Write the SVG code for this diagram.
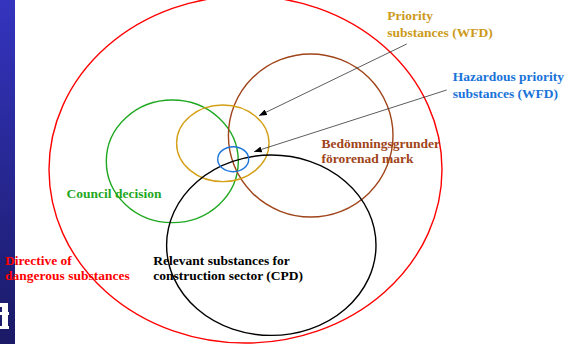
<svg xmlns="http://www.w3.org/2000/svg" width="567" height="344" viewBox="0 0 567 344">
<defs>
<linearGradient id="bar" x1="0" y1="0" x2="0" y2="1">
<stop offset="0" stop-color="#3434bf"/>
<stop offset="1" stop-color="#1a1a66"/>
</linearGradient>
<marker id="ah" markerWidth="8" markerHeight="6" refX="7.5" refY="3" orient="auto" markerUnits="userSpaceOnUse">
<path d="M0,0 L8,3 L0,6 Z" fill="#000"/>
</marker>
<style>
.set{fill:none;stroke-width:1.4}
.t{font-family:"Liberation Serif","Times New Roman",serif;font-weight:bold;font-size:13.5px}
.arrow{stroke:#333;stroke-width:0.8;fill:none;marker-end:url(#ah)}
</style>
</defs>
<rect width="567" height="344" fill="#fff"/>
<rect x="0" y="0" width="15" height="344" fill="url(#bar)"/>
<g fill="#fff">
<rect x="0" y="303" width="8" height="4"/>
<rect x="2" y="307" width="6" height="20"/>
<rect x="0" y="312" width="9" height="3"/>
<rect x="0" y="326" width="9" height="3"/>
</g>
<g id="directive">
<ellipse class="set" cx="245.5" cy="169.5" rx="196.5" ry="173.5" stroke="#ff0000"/>
<text class="t" fill="#ff0000" x="5" y="265">Directive of</text>
<text class="t" fill="#ff0000" x="5" y="280">dangerous substances</text>
</g>
<g id="council">
<ellipse class="set" cx="172.3" cy="161.3" rx="66" ry="61.3" stroke="#1fa81f"/>
<text class="t" fill="#1fa81f" x="66.5" y="197.5">Council decision</text>
</g>
<g id="bedomning">
<ellipse class="set" cx="310.7" cy="135.5" rx="82.3" ry="81.5" stroke="#a0441a"/>
<text class="t" fill="#a0441a" x="321.5" y="147.5">Bedömningsgrunder</text>
<text class="t" fill="#a0441a" x="321.5" y="163.3">förorenad mark</text>
</g>
<g id="priority">
<ellipse class="set" cx="222.8" cy="143.3" rx="46.2" ry="38.3" stroke="#d4a017"/>
<text class="t" fill="#cc9a1a" x="387.3" y="20">Priority</text>
<text class="t" fill="#cc9a1a" x="387.3" y="36.8">substances (WFD)</text>
</g>
<g id="cpd">
<ellipse class="set" cx="271.3" cy="245.2" rx="104.7" ry="90.2" stroke="#000"/>
<text class="t" fill="#000" x="153.3" y="265">Relevant substances for</text>
<text class="t" fill="#000" x="153.3" y="280">construction sector (CPD)</text>
</g>
<g id="hazardous">
<ellipse class="set" cx="233.2" cy="159.2" rx="15.5" ry="12.5" stroke="#1a73d9"/>
<text class="t" fill="#1a73d9" x="452.7" y="81.2">Hazardous priority</text>
<text class="t" fill="#1a73d9" x="452.7" y="97.5">substances (WFD)</text>
</g>
<g id="connectors">
<line class="arrow" x1="406.7" y1="44" x2="259.3" y2="115.5"/>
<line class="arrow" x1="446.7" y1="90" x2="254.3" y2="151.7"/>
</g>
</svg>
